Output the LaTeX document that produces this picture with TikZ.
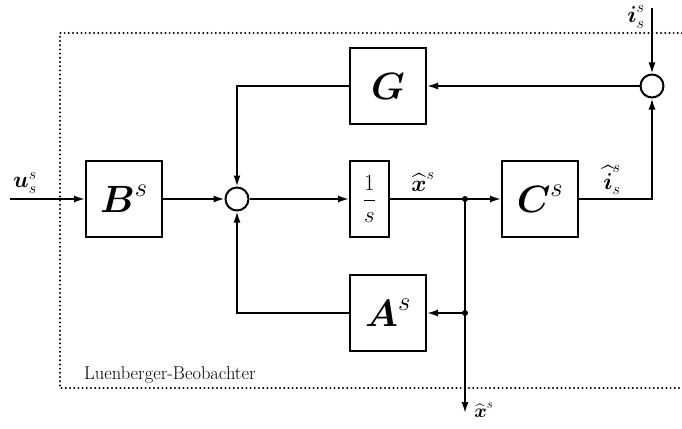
\RequirePackage{fix-cm}
\documentclass[tikz,border=0pt]{standalone}
\usepackage{amsmath}
\usetikzlibrary{arrows.meta}
\begin{document}
\begin{tikzpicture}[x=1pt,y=-1pt,
  blk/.style={draw,line width=2pt,minimum width=76pt,minimum height=76pt,inner sep=0pt,font=\fontsize{38}{42}\selectfont},
  sumnode/.style={draw,circle,line width=2pt,minimum size=23pt,inner sep=0pt},
  arr/.style={line width=1.7pt,-{Latex[length=11pt,width=7pt]}},
  lbl/.style={font=\fontsize{23}{26}\selectfont,inner sep=0pt},
  dots/.style={line width=2.2pt,dash pattern=on 0pt off 4.2pt,line cap=round}]
\useasboundingbox (0,0) rectangle (682,428);
% observer frame
\draw[dots] (682,33) -- (60,33) -- (60,388) -- (682,388);
\node[font=\fontsize{18.5}{20}\selectfont,anchor=west,inner sep=0pt] (title) at (84,375) {Luenberger-Beobachter};
% blocks
\node[blk] (B) at (124,199) {$\boldsymbol{B}^{s}$};
\node[blk] (G) at (388,86) {$\boldsymbol{G}$};
\node[blk,minimum width=39pt,font=\fontsize{23}{25}\selectfont] (I) at (369.5,199) {$\dfrac{1}{s}$};
\node[blk] (C) at (540,199) {$\boldsymbol{C}^{s}$};
\node[blk] (A) at (388,313) {$\boldsymbol{A}^{s}$};
\node[sumnode] (S1) at (237,199) {};
\node[sumnode] (S2) at (652,86) {};
% free ends
\coordinate (uin) at (10,199);
\coordinate (iin) at (652,8);
\coordinate (b1) at (465,199);
\coordinate (b2) at (465,313);
\coordinate (xout) at (465,413);
% connectors
\draw[arr] (uin) -- (B.west);
\draw[arr] (B.east) -- (S1.west);
\draw[arr] (S1.east) -- (I.west);
\draw[arr] (I.east) -- (C.west);
\draw[arr] (C.east) -| (S2.south);
\draw[arr] (iin) -- (S2.north);
\draw[arr] (S2.west) -- (G.east);
\draw[arr] (G.west) -| (S1.north);
\draw[arr] (b1) -- (xout);
\draw[arr] (b2) -- (A.east);
\draw[arr] (A.west) -| (S1.south);
\fill (b1) circle (3pt);
\fill (b2) circle (3pt);
% labels
\node[lbl] (lu) at (25,183) {$\boldsymbol{u}_s^s$};
\node[lbl] (lx1) at (423,182) {$\widehat{\boldsymbol{x}}^s$};
\node[lbl] (li1) at (612,180) {$\widehat{\boldsymbol{i}}_s^s$};
\node[lbl] (li2) at (636,17) {$\boldsymbol{i}_s^s$};
\node[lbl,font=\fontsize{19}{22}\selectfont] (lx2) at (484,410) {$\widehat{\boldsymbol{x}}^s$};
\end{tikzpicture}
\end{document}
